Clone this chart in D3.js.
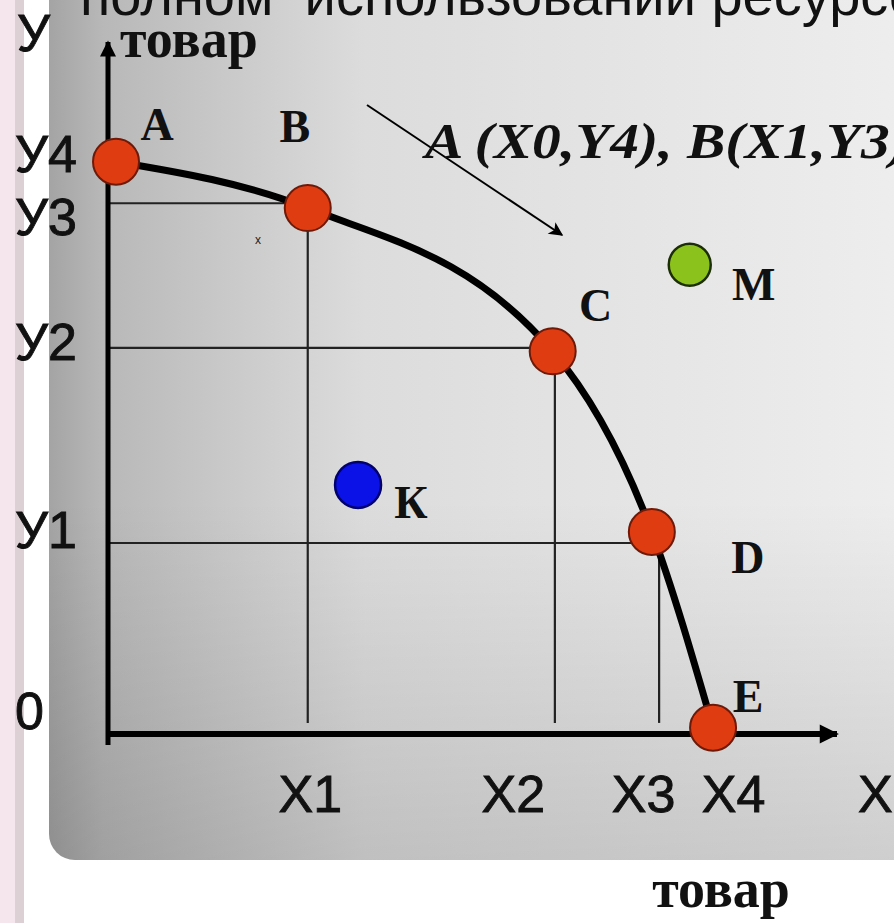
<!DOCTYPE html>
<html>
<head>
<meta charset="utf-8">
<script src="https://cdn.jsdelivr.net/npm/d3@7"></script>
<style>
  body { margin: 0; background: #fff; }
  svg { display: block; }
</style>
</head>
<body>
<script>
// data (units: 0..100 on both axes)
const xTickLabels = ["X1", "X2", "X3", "X4"]
const xTickValues = [27.4, 61.3, 75.6, 83.0]
const yTickLabels = ["0", "У1", "У2", "У3", "У4"]
const yTickValues = [0, 27.6, 55.8, 76.7, 82.7]

const pointNames = ["A", "B", "C", "D", "E"]
const pointX = [1.1, 27.4, 61.0, 74.6, 83.0]
const pointY = [82.7, 76.0, 55.3, 29.2, 0.9]

const otherNames = ["К", "M"]
const otherX = [34.3, 79.8]
const otherY = [36.0, 67.8]
const otherColors = ["#0a12e8", "#8cc21c"]
const otherStroke = ["#00006e", "#1c2e06"]

// guide lines
const guideX = [27.4, 61.3, 75.6]
const guideY = [76.7, 55.8, 27.6]

const w = 894
const h = 923

// layout nudges in px (the slide places labels by hand)
const labelOff = {
  A: [41, -22], B: [-13, -66], C: [43, -30], D: [96, 41], E: [35, -16],
  "К": [53, 33], M: [64, 35]
}
const xLabelShift = [2, -42, -16, 20]
const yLabelShift = [-23, -13, -6, 14, -8]

const sans = "Liberation Sans, Arial, sans-serif"
const serif = "Liberation Serif, Times New Roman, serif"

const svg = d3.select("body").append("svg")
  .attr("width", w)
  .attr("height", h)

const defs = svg.append("defs")
const g1 = defs.append("linearGradient").attr("id", "panelH")
  .attr("x1", 0).attr("x2", 1).attr("y1", 0).attr("y2", 0)
g1.append("stop").attr("offset", 0).attr("stop-color", "#a4a4a4")
g1.append("stop").attr("offset", 0.06).attr("stop-color", "#b8b8b8")
g1.append("stop").attr("offset", 0.35).attr("stop-color", "#dcdcdc")
g1.append("stop").attr("offset", 1).attr("stop-color", "#efefef")
const g2 = defs.append("linearGradient").attr("id", "panelV")
  .attr("x1", 0).attr("x2", 0).attr("y1", 0).attr("y2", 1)
g2.append("stop").attr("offset", 0.6).attr("stop-color", "#000").attr("stop-opacity", 0)
g2.append("stop").attr("offset", 1).attr("stop-color", "#000").attr("stop-opacity", 0.13)

// left page strip
svg.append("rect").attr("x", 0).attr("y", 0).attr("width", 15).attr("height", h).attr("fill", "#f4e6ec")
svg.append("rect").attr("x", 15).attr("y", 0).attr("width", 9).attr("height", h).attr("fill", "#dcd0d5")

// panel
svg.append("rect").attr("x", 49).attr("y", -40).attr("width", 900).attr("height", 900)
  .attr("rx", 26).attr("fill", "url(#panelH)")
svg.append("rect").attr("x", 49).attr("y", -40).attr("width", 900).attr("height", 900)
  .attr("rx", 26).attr("fill", "url(#panelV)")

// title (cut off at top)
svg.append("text").attr("x", 80).attr("y", 15)
  .attr("font-family", sans).attr("font-size", 56)
  .attr("fill", "#111").attr("xml:space", "preserve")
  .text("полном  использовании ресурсов")

const xScale = d3.scaleLinear().domain([0, 100]).range([108, 837])
const yScale = d3.scaleLinear().domain([0, 100]).range([734, 42])

// guide lines
svg.selectAll(".gh").data(guideX).enter().append("line")
  .attr("x1", xScale(0)).attr("x2", d => xScale(d))
  .attr("y1", (d, i) => yScale(guideY[i])).attr("y2", (d, i) => yScale(guideY[i]))
  .attr("stroke", "#222").attr("stroke-width", 2.2)
svg.selectAll(".gv").data(guideX).enter().append("line")
  .attr("x1", d => xScale(d)).attr("x2", d => xScale(d))
  .attr("y1", (d, i) => yScale(guideY[i])).attr("y2", yScale(1.6))
  .attr("stroke", "#222").attr("stroke-width", 2.2)

// frontier curve
const pts = pointX.map((x, i) => [x, pointY[i]])
const line = d3.line()
  .x(d => xScale(d[0]))
  .y(d => yScale(d[1]))
  .curve(d3.curveMonotoneX)
svg.append("path").attr("d", line(pts))
  .attr("fill", "none").attr("stroke", "#000").attr("stroke-width", 7)

// arrows
defs.append("marker").attr("id", "arr")
  .attr("viewBox", "0 0 10 10").attr("refX", 9).attr("refY", 5)
  .attr("markerWidth", 4.5).attr("markerHeight", 3.2).attr("orient", "auto")
  .attr("markerUnits", "strokeWidth")
  .append("path").attr("d", "M0,0 L10,5 L0,10 z").attr("fill", "#000")
defs.append("marker").attr("id", "arrThin")
  .attr("viewBox", "0 0 10 10").attr("refX", 9).attr("refY", 5)
  .attr("markerWidth", 22).attr("markerHeight", 14).attr("orient", "auto")
  .attr("markerUnits", "userSpaceOnUse")
  .append("path").attr("d", "M0,0 L10,5 L0,10 L2.5,5 z").attr("fill", "#000")

svg.append("line")
  .attr("x1", xScale(0)).attr("x2", xScale(100))
  .attr("y1", yScale(0)).attr("y2", yScale(0))
  .attr("stroke", "#000").attr("stroke-width", 6).attr("marker-end", "url(#arr)")
svg.append("line")
  .attr("x1", xScale(0)).attr("x2", xScale(0))
  .attr("y1", yScale(0) + 11).attr("y2", yScale(100))
  .attr("stroke", "#000").attr("stroke-width", 5).attr("marker-end", "url(#arr)")

// tick labels via d3 axes
const xAxis = d3.axisBottom(xScale)
  .tickValues(xTickValues)
  .tickFormat((d, i) => xTickLabels[i])
  .tickSize(0).tickPadding(41)
const gx = svg.append("g")
  .attr("transform", "translate(0," + yScale(0) + ")")
  .call(xAxis)
gx.select(".domain").remove()
gx.selectAll("text")
  .attr("x", (d, i) => xLabelShift[i])
  .attr("font-family", sans)
  .attr("font-size", 52).attr("fill", "#111")
  .attr("stroke", "#111").attr("stroke-width", 0.9)

const yAxis = d3.axisLeft(yScale)
  .tickValues(yTickValues)
  .tickFormat((d, i) => yTickLabels[i])
  .tickSize(0)
const gy = svg.append("g")
  .attr("transform", "translate(" + xScale(0) + ",0)")
  .call(yAxis)
gy.select(".domain").remove()
gy.selectAll("text")
  .attr("x", 15 - xScale(0)).attr("text-anchor", "start")
  .attr("y", (d, i) => yLabelShift[i]).attr("dy", "0.34em")
  .attr("font-family", sans)
  .attr("font-size", 52).attr("fill", "#111")
  .attr("stroke", "#111").attr("stroke-width", 0.9)

// axis names
svg.append("text").attr("x", 17).attr("y", 51)
  .attr("font-family", sans).attr("font-size", 52)
  .attr("fill", "#111").attr("stroke", "#111").attr("stroke-width", 0.9).text("У")
svg.append("text").attr("x", 858).attr("y", 812)
  .attr("font-family", sans).attr("font-size", 52)
  .attr("fill", "#111").attr("stroke", "#111").attr("stroke-width", 0.9).text("X")
svg.append("text").attr("x", 120).attr("y", 57)
  .attr("font-family", serif).attr("font-weight", "bold")
  .attr("font-size", 54).attr("fill", "#111").text("товар")
svg.append("text").attr("x", 721).attr("y", 907).attr("text-anchor", "middle")
  .attr("font-family", serif).attr("font-weight", "bold")
  .attr("font-size", 54).attr("fill", "#111").text("товар")

// annotation arrow + text
svg.append("line").attr("x1", 367).attr("y1", 105).attr("x2", 562).attr("y2", 235)
  .attr("stroke", "#000").attr("stroke-width", 2).attr("marker-end", "url(#arrThin)")
svg.append("text")
  .attr("transform", "translate(425,158) scale(1.15,1)")
  .attr("font-family", serif)
  .attr("font-weight", "bold").attr("font-style", "italic")
  .attr("font-size", 50).attr("fill", "#111")
  .text("A (X0,Y4), B(X1,Y3)")
svg.append("text").attr("x", 258).attr("y", 244).attr("text-anchor", "middle")
  .attr("font-family", sans).attr("font-size", 12)
  .attr("fill", "#222").text("x")

// frontier points
svg.selectAll(".pt").data(pointNames).enter().append("circle")
  .attr("cx", (d, i) => xScale(pointX[i]))
  .attr("cy", (d, i) => yScale(pointY[i]))
  .attr("r", 23)
  .attr("fill", "#e03c12").attr("stroke", "#6e1a08").attr("stroke-width", 2)

// other points
svg.selectAll(".op").data(otherNames).enter().append("circle")
  .attr("cx", (d, i) => xScale(otherX[i]))
  .attr("cy", (d, i) => yScale(otherY[i]))
  .attr("r", (d, i) => i === 0 ? 23 : 21)
  .attr("fill", (d, i) => otherColors[i])
  .attr("stroke", (d, i) => otherStroke[i]).attr("stroke-width", 2.5)

// point labels
const allNames = pointNames.concat(otherNames)
const allX = pointX.concat(otherX)
const allY = pointY.concat(otherY)
svg.selectAll(".lbl").data(allNames).enter().append("text")
  .attr("x", (d, i) => xScale(allX[i]) + labelOff[d][0])
  .attr("y", (d, i) => yScale(allY[i]) + labelOff[d][1])
  .attr("text-anchor", "middle")
  .attr("font-family", serif)
  .attr("font-weight", "bold").attr("font-size", 46).attr("fill", "#111")
  .text(d => d)
</script>
</body>
</html>
